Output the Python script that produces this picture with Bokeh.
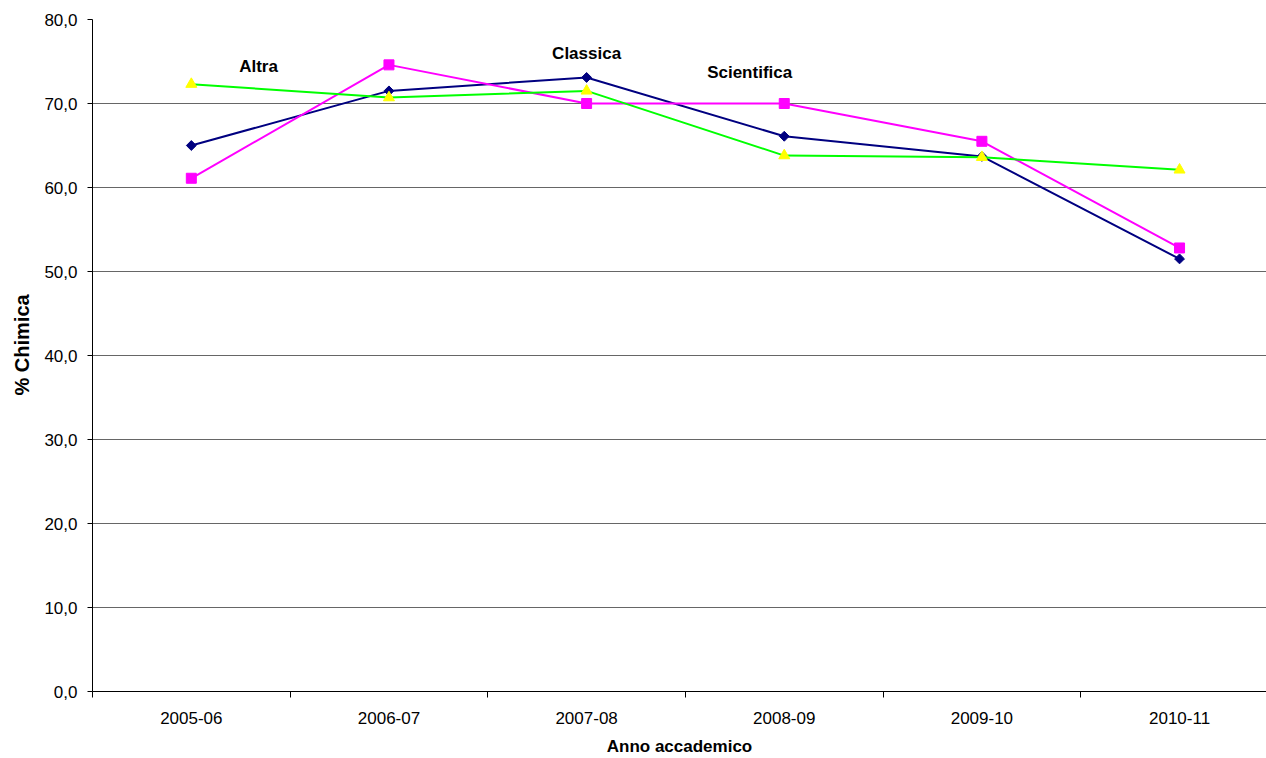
import numpy as np
from bokeh.plotting import figure
from bokeh.models import Range1d, FixedTicker, Label, Title
from bokeh.embed import file_html
from bokeh.resources import INLINE

categories = ["2005-06", "2006-07", "2007-08", "2008-09", "2009-10", "2010-11"]
classica = [65.0, 71.5, 73.1, 66.1, 63.7, 51.5]
scientifica = [61.1, 74.6, 70.0, 70.0, 65.5, 52.8]
altra = [72.3, 70.7, 71.5, 63.8, 63.6, 62.1]
y_ticks = [0, 10, 20, 30, 40, 50, 60, 70, 80]
y_tick_labels = ["0,0", "10,0", "20,0", "30,0", "40,0", "50,0", "60,0", "70,0", "80,0"]

FONT = "Liberation Sans"

xs = [i + 0.5 for i in range(len(categories))]

p = figure(width=1266, height=758, output_backend="svg", toolbar_location=None,
           x_range=Range1d(0, 5.94), y_range=Range1d(0, 80),
           min_border_left=92, min_border_right=0, min_border_top=19, min_border_bottom=67)
p.outline_line_color = None
p.background_fill_color = "white"

# x axis
p.xaxis.ticker = FixedTicker(ticks=xs, minor_ticks=list(range(len(categories) + 1)))
p.xaxis.major_label_overrides = {x: c for x, c in zip(xs, categories)}
p.xaxis.major_tick_line_color = None
p.xaxis.major_tick_out = 0
p.xaxis.major_tick_in = 0
p.xaxis.minor_tick_out = 6
p.xaxis.minor_tick_in = 0
p.xaxis.minor_tick_line_color = "#000000"
p.xaxis.major_label_standoff = 14
p.xaxis.axis_label = "Anno accademico"
p.xaxis.axis_label_standoff = 10

# y axis
p.yaxis.ticker = FixedTicker(ticks=y_ticks)
p.yaxis.major_label_overrides = {t: l for t, l in zip(y_ticks, y_tick_labels)}
p.yaxis.minor_tick_line_color = None
p.yaxis.major_tick_out = 5
p.yaxis.major_tick_in = 0
p.yaxis.major_tick_line_color = "#000000"
p.yaxis.major_label_standoff = 10

for ax in (p.xaxis, p.yaxis):
    ax.axis_line_color = "#000000"
    ax.major_label_text_font = FONT
    ax.major_label_text_font_size = "17px"
    ax.major_label_text_color = "#000000"
    ax.major_label_text_line_height = 1.0
    ax.axis_label_text_font = FONT
    ax.axis_label_text_font_style = "bold"
    ax.axis_label_text_color = "#000000"
    ax.axis_label_text_line_height = 1.0
p.xaxis.axis_label_text_font_size = "17px"

# y-axis title as a left-side title (allows shifting along the axis)
p.add_layout(Title(text="% Chimica", align="left", vertical_align="top", offset=296, standoff=14,
                   text_font=FONT, text_font_size="20px", text_font_style="bold",
                   text_color="#000000", text_line_height=1.0), "left")

p.xgrid.grid_line_color = None
p.ygrid.grid_line_color = "#666666"
p.ygrid.grid_line_width = 1
p.ygrid.ticker = FixedTicker(ticks=y_ticks)

# series
p.line(xs, classica, line_color="#000080", line_width=2)
p.scatter(xs, classica, marker="square", angle=np.pi / 4, size=7,
          fill_color="#000080", line_color="#000080")

p.line(xs, scientifica, line_color="#FF00FF", line_width=2)
p.scatter(xs, scientifica, marker="square", size=10,
          fill_color="#FF00FF", line_color="#FF00FF")

p.line(xs, altra, line_color="#00FF00", line_width=2)
p.scatter(xs, altra, marker="triangle", size=11,
          fill_color="#FFFF00", line_color="#FFFF00")

# series labels
for txt, lx, ly in [("Altra", 0.84, 74.4), ("Classica", 2.5, 76.0), ("Scientifica", 3.325, 73.65)]:
    p.add_layout(Label(x=lx, y=ly, text=txt, text_align="center", text_baseline="middle",
                       text_font=FONT, text_font_size="17px", text_font_style="bold",
                       text_color="#000000"))

open("out.html", "w").write(file_html(p, INLINE))
